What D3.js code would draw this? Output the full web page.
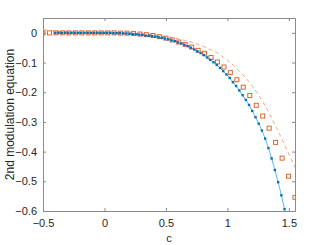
<!DOCTYPE html>
<html>
<head>
  <meta charset="utf-8">
  <title>2nd modulation equation</title>
  <script src="https://d3js.org/d3.v7.min.js"></script>
  <style>
    body { margin: 0; background: #fff; font-family: "Liberation Sans", Arial, sans-serif; }
    .tick text { font-size: 11px; fill: #262626; }
  </style>
</head>
<body>
  <svg id="chart" width="327" height="245"></svg>

  <script>
    // blue dots + solid line
    const blueC = [-0.400, -0.374, -0.347, -0.321, -0.295, -0.269, -0.242, -0.216, -0.190, -0.164,
      -0.137, -0.111, -0.085, -0.058, -0.032, -0.006, 0.020, 0.047, 0.073, 0.099,
      0.125, 0.152, 0.178, 0.204, 0.231, 0.257, 0.283, 0.309, 0.336, 0.362,
      0.388, 0.414, 0.441, 0.467, 0.493, 0.519, 0.546, 0.572, 0.598, 0.625,
      0.651, 0.677, 0.703, 0.730, 0.756, 0.782, 0.808, 0.835, 0.861, 0.887,
      0.914, 0.940, 0.966, 0.992, 1.019, 1.045, 1.071, 1.097, 1.124, 1.150,
      1.176, 1.202, 1.229, 1.255, 1.281, 1.307, 1.334, 1.360, 1.386, 1.413,
      1.439, 1.465];
    const blueV = [0, 0, 0, 0, 0, 0, 0, 0, 0, 0,
      0, 0, 0, 0, 0, 0, 0, 0, -0.001, -0.001,
      -0.001, -0.002, -0.002, -0.003, -0.004, -0.005, -0.006, -0.007, -0.009, -0.010,
      -0.011, -0.013, -0.015, -0.017, -0.019, -0.022, -0.025, -0.028, -0.032, -0.036,
      -0.040, -0.045, -0.050, -0.056, -0.062, -0.068, -0.075, -0.083, -0.091, -0.099,
      -0.108, -0.118, -0.129, -0.140, -0.152, -0.166, -0.179, -0.194, -0.210, -0.226,
      -0.243, -0.263, -0.284, -0.306, -0.329, -0.356, -0.388, -0.423, -0.462, -0.503,
      -0.547, -0.594];

    // orange open squares
    const sqC = [-0.500, -0.447, -0.395, -0.342, -0.290, -0.237, -0.185, -0.132, -0.079, -0.027,
      0.026, 0.078, 0.131, 0.183, 0.236, 0.288, 0.341, 0.394, 0.446, 0.499,
      0.551, 0.604, 0.656, 0.709, 0.762, 0.814, 0.867, 0.919, 0.972, 1.024,
      1.077, 1.129, 1.182, 1.235, 1.287, 1.340, 1.392, 1.445, 1.497, 1.550];
    const sqV = [0, 0, 0, 0, 0, 0, 0, 0, 0, 0,
      0, 0, -0.001, -0.001, -0.002, -0.004, -0.006, -0.009, -0.013, -0.018,
      -0.024, -0.031, -0.039, -0.048, -0.059, -0.069, -0.083, -0.098, -0.115, -0.134,
      -0.158, -0.183, -0.211, -0.244, -0.280, -0.321, -0.369, -0.422, -0.483, -0.554];

    // orange dashed line
    const dashC = [-0.5, -0.4, -0.3, -0.2, 0, 0.2, 0.4, 0.6, 0.8, 0.9, 1.0, 1.1, 1.2, 1.3, 1.4, 1.5, 1.55];
    const dashV = [0.011, 0.006, 0.003, 0.001, 0, -0.001, -0.007, -0.020, -0.045, -0.064, -0.092, -0.130, -0.178, -0.240, -0.320, -0.408, -0.453];

    const xTicks = [-0.5, 0, 0.5, 1, 1.5];
    const yTicks = [-0.6, -0.5, -0.4, -0.3, -0.2, -0.1, 0];

    const svg = d3.select("#chart");
    const mLeft = 43, mRight = 295, mTop = 18, mBottom = 211;

    const x = d3.scaleLinear().domain([-0.5, 1.55]).range([mLeft, mRight]);
    const y = d3.scaleLinear().domain([-0.6, 0.05]).range([mBottom, mTop]);

    svg.append("defs").append("clipPath").attr("id", "clip")
      .append("rect").attr("x", mLeft).attr("y", mTop)
      .attr("width", mRight - mLeft).attr("height", mBottom - mTop);

    const axisColor = "#8a8a8a";
    const fmt = d => d3.format("")(d);

    // bottom + top
    const gx = svg.append("g").attr("transform", `translate(0,${mBottom})`)
      .call(d3.axisBottom(x).tickValues(xTicks).tickSizeInner(-3).tickSizeOuter(0).tickPadding(8).tickFormat(fmt));
    const gxt = svg.append("g").attr("transform", `translate(0,${mTop})`)
      .call(d3.axisTop(x).tickValues(xTicks).tickSizeInner(-3).tickSizeOuter(0).tickFormat(""));
    // left + right
    const gy = svg.append("g").attr("transform", `translate(${mLeft},0)`)
      .call(d3.axisLeft(y).tickValues(yTicks).tickSizeInner(-3).tickSizeOuter(0).tickPadding(6).tickFormat(fmt));
    const gyr = svg.append("g").attr("transform", `translate(${mRight},0)`)
      .call(d3.axisRight(y).tickValues(yTicks).tickSizeInner(-3).tickSizeOuter(0).tickFormat(""));

    [gx, gxt, gy, gyr].forEach(g => {
      g.selectAll(".domain").attr("stroke", axisColor);
      g.selectAll(".tick line").attr("stroke", axisColor);
      g.selectAll("text").style("font-family", "'Liberation Sans', Arial, sans-serif");
    });

    const plot = svg.append("g").attr("clip-path", "url(#clip)");

    const dashData = dashC.map((c, i) => [c, dashV[i]]);
    const blueData = blueC.map((c, i) => [c, blueV[i]]);
    const sqData = sqC.map((c, i) => [c, sqV[i]]);

    const line = d3.line().x(d => x(d[0])).y(d => y(d[1])).curve(d3.curveMonotoneX);

    plot.append("path").datum(dashData)
      .attr("d", line)
      .attr("fill", "none")
      .attr("stroke", "#f0a888")
      .attr("stroke-width", 1)
      .attr("stroke-dasharray", "4,3");

    plot.append("path").datum(blueData)
      .attr("d", line)
      .attr("fill", "none")
      .attr("stroke", "#62b3e6")
      .attr("stroke-width", 1);

    plot.selectAll("rect.sq").data(sqData).join("rect")
      .attr("class", "sq")
      .attr("x", d => x(d[0]) - 2)
      .attr("y", d => y(d[1]) - 2)
      .attr("width", 4).attr("height", 4)
      .attr("fill", "none")
      .attr("stroke", "#de6630")
      .attr("stroke-width", 1);

    plot.selectAll("rect.dot").data(blueData).join("rect")
      .attr("class", "dot")
      .attr("x", d => x(d[0]) - 1.2)
      .attr("y", d => y(d[1]) - 1.2)
      .attr("width", 2.4).attr("height", 2.4)
      .attr("fill", "#0072bd");

    svg.append("text")
      .attr("x", (mLeft + mRight) / 2)
      .attr("y", 242)
      .attr("text-anchor", "middle")
      .style("font-size", "11px")
      .style("fill", "#262626")
      .text("c");

    svg.append("text")
      .attr("transform", `translate(14,${(mTop + mBottom) / 2}) rotate(-90)`)
      .attr("text-anchor", "middle")
      .style("font-size", "12px")
      .style("fill", "#262626")
      .text("2nd modulation equation");
  </script>
</body>
</html>
